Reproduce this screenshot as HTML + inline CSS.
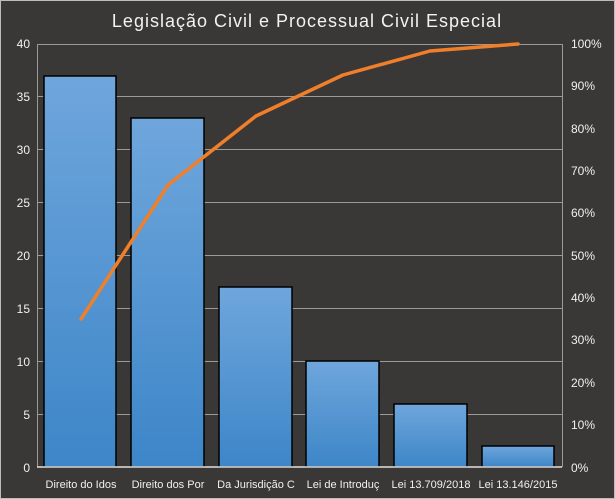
<!DOCTYPE html>
<html><head><meta charset="utf-8"><style>
html,body{margin:0;padding:0;background:#3a3837;}
svg{display:block;font-family:"Liberation Sans",sans-serif;}
</style></head><body>
<svg width="615" height="499" xmlns="http://www.w3.org/2000/svg">
<defs><linearGradient id="g" x1="0" y1="0" x2="0" y2="1"><stop offset="0" stop-color="#6fa6dc"/><stop offset="1" stop-color="#3d86c8"/></linearGradient></defs>
<rect x="0.5" y="0.5" width="614" height="498" fill="#3a3837" stroke="#bdbdbd"/>
<text x="307" y="27" text-anchor="middle" font-size="18" fill="#f2f2f2" letter-spacing="1">Legislação Civil e Processual Civil Especial</text>
<g stroke="#9a9a9a" stroke-width="1">
<line x1="37" y1="44.5" x2="562" y2="44.5"/><line x1="37" y1="96.5" x2="562" y2="96.5"/>
<line x1="37" y1="149.5" x2="562" y2="149.5"/><line x1="37" y1="202.5" x2="562" y2="202.5"/>
<line x1="37" y1="255.5" x2="562" y2="255.5"/><line x1="37" y1="308.5" x2="562" y2="308.5"/>
<line x1="37" y1="361.5" x2="562" y2="361.5"/><line x1="37" y1="414.5" x2="562" y2="414.5"/>
<line x1="37.5" y1="44" x2="37.5" y2="467"/><line x1="562.5" y1="44" x2="562.5" y2="467"/>
</g>
<g fill="url(#g)" stroke="#000" stroke-width="1.5">
<rect x="44" y="76" width="72" height="391"/>
<rect x="131" y="118" width="73" height="349"/>
<rect x="219" y="287" width="73" height="180"/>
<rect x="306" y="361" width="73" height="106"/>
<rect x="394" y="404" width="73" height="63"/>
<rect x="482" y="446" width="72" height="21"/>
</g>
<line x1="37" y1="467" x2="562" y2="467" stroke="#e0e0e0" stroke-width="1.5"/>
<polyline points="81,319 168,185 256,116 343,75 430,51 518,44" fill="none" stroke="#f07f2a" stroke-width="3.5" stroke-linejoin="round" stroke-linecap="round"/>
<g font-size="12" fill="#f0f0f0" text-anchor="end">
<text x="30" y="48">40</text><text x="30" y="101">35</text><text x="30" y="154">30</text><text x="30" y="207">25</text>
<text x="30" y="260">20</text><text x="30" y="313">15</text><text x="30" y="366">10</text><text x="30" y="419">5</text><text x="30" y="472">0</text>
</g>
<g font-size="12" fill="#f0f0f0">
<text x="571" y="48">100%</text><text x="571" y="90">90%</text><text x="571" y="133">80%</text><text x="571" y="175">70%</text>
<text x="571" y="217">60%</text><text x="571" y="260">50%</text><text x="571" y="302">40%</text><text x="571" y="344">30%</text>
<text x="571" y="387">20%</text><text x="571" y="429">10%</text><text x="571" y="472">0%</text>
</g>
<g font-size="11" fill="#f0f0f0" text-anchor="middle">
<text x="81" y="488">Direito do Idos</text><text x="168" y="488">Direito dos Por</text>
<text x="256" y="488">Da Jurisdição C</text><text x="343" y="488">Lei de Introduç</text>
<text x="431" y="488">Lei 13.709/2018</text><text x="518" y="488">Lei 13.146/2015</text>
</g>
</svg>
</body></html>
